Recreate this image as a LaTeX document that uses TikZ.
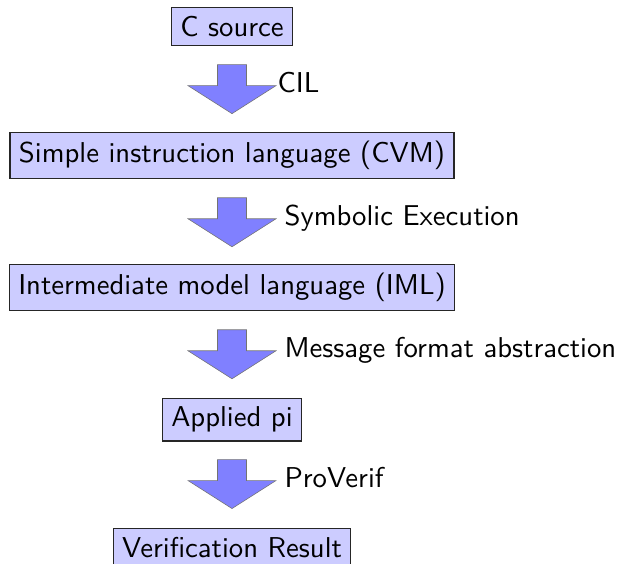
\documentclass[tikz,border=0pt]{standalone}
\usetikzlibrary{calc}
\definecolor{boxfill}{RGB}{204,204,255}
\definecolor{arrowfill}{RGB}{128,128,255}
\begin{document}
\begin{tikzpicture}[x=0.34843pt, y=-0.34843pt, font=\sffamily,
  stagebox/.style={draw=black!85, line width=0.4pt, fill=boxfill,
    inner xsep=3.1pt, inner ysep=2.95pt, anchor=north},
  stagelabel/.style={inner sep=0pt, anchor=base west},
  stage arrow/.pic={
    \filldraw[fill=arrowfill, draw=black!55, line width=0.2pt]
      (-14.5,0) -- (14.5,0) -- (14.5,21) -- (44,21) -- (0,49)
      -- (-44,21) -- (-14.5,21) -- cycle;}
]
\useasboundingbox (0,0) rectangle (624,564);

% pipeline stages
\node[stagebox] (src) at (232,7)   {C source};
\node[stagebox] (cvm) at (232,132) {Simple instruction language (CVM)};
\node[stagebox] (iml) at (232,264) {Intermediate model language (IML)};
\node[stagebox] (pi)  at (232,398) {Applied pi};
\node[stagebox] (res) at (232,528) {Verification Result};

% block arrows between stages, each hanging below the stage above
\coordinate (a1) at ($(src.south)+(0,19)$);
\coordinate (a2) at ($(cvm.south)+(0,19)$);
\coordinate (a3) at ($(iml.south)+(0,19)$);
\coordinate (a4) at ($(pi.south)+(0,18)$);

\pic at (a1) {stage arrow};
\pic at (a2) {stage arrow};
\pic at (a3) {stage arrow};
\pic at (a4) {stage arrow};

% transformation names
\node[stagelabel] (l1) at ($(a1)+(45,28)$) {CIL};
\node[stagelabel] (l2) at ($(a2)+(52,28)$) {Symbolic Execution};
\node[stagelabel] (l3) at ($(a3)+(52,28)$) {Message format abstraction};
\node[stagelabel] (l4) at ($(a4)+(52,28)$) {ProVerif};
\end{tikzpicture}
\end{document}
